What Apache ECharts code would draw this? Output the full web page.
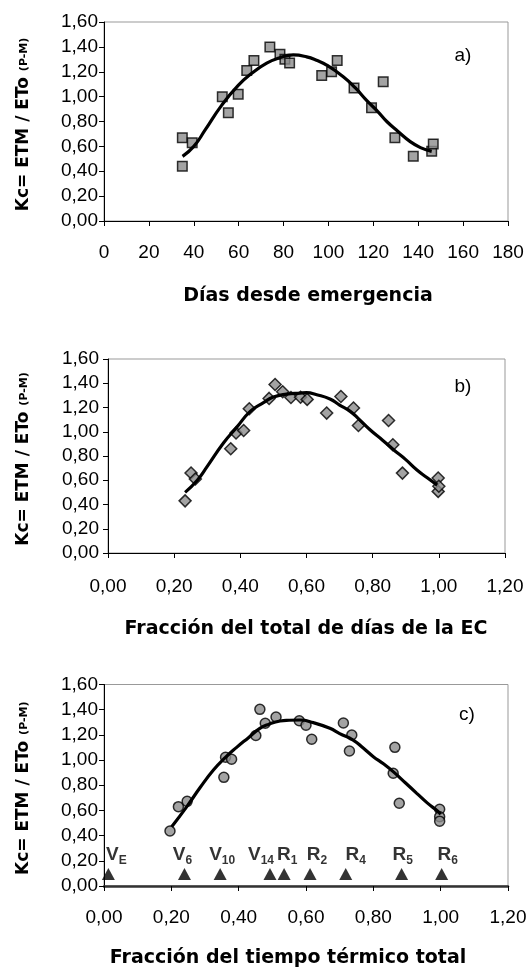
<!DOCTYPE html>
<html><head><meta charset="utf-8">
<script src="https://cdn.jsdelivr.net/npm/echarts@6/dist/echarts.min.js"></script>
<style>html,body{margin:0;padding:0;background:#fff}#c{width:531px;height:969px}</style>
</head><body><div id="c"></div>
<script>
// ---------- data ----------
// Panel a) : Kc vs days since emergence
const aDays = [34.9, 39.3, 34.9, 52.7, 55.4, 59.8, 63.6, 66.8, 73.9, 78.4, 80.6, 82.7, 97.0, 101.4, 103.9, 111.4, 119.2, 124.4, 129.6, 137.8, 146.0, 146.7];
const aKc   = [0.67, 0.63, 0.44, 1.00, 0.87, 1.02, 1.21, 1.29, 1.40, 1.34, 1.30, 1.27, 1.17, 1.20, 1.29, 1.07, 0.91, 1.12, 0.67, 0.52, 0.56, 0.62];
const aFitDays = [35, 40, 45, 52.4, 59.8, 66, 72.5, 78, 84.3, 90.3, 95, 99.2, 106.6, 112, 117, 122, 126, 131, 136.3, 141, 146];
const aFitKc   = [0.52, 0.60, 0.73, 0.93, 1.09, 1.19, 1.27, 1.31, 1.335, 1.32, 1.29, 1.254, 1.16, 1.07, 0.97, 0.88, 0.80, 0.72, 0.64, 0.59, 0.56];

// Panel b) : Kc vs fraction of total days
const bFrac = [0.233, 0.251, 0.264, 0.371, 0.387, 0.410, 0.427, 0.487, 0.505, 0.528, 0.553, 0.582, 0.602, 0.661, 0.704, 0.742, 0.757, 0.848, 0.861, 0.890, 0.998, 0.998, 1.000];
const bKc   = [0.43, 0.66, 0.61, 0.86, 0.99, 1.01, 1.19, 1.275, 1.39, 1.33, 1.283, 1.285, 1.267, 1.154, 1.291, 1.196, 1.052, 1.093, 0.893, 0.659, 0.618, 0.508, 0.55];
const bFitFrac = [0.233, 0.27, 0.30, 0.349, 0.39, 0.43, 0.47, 0.50, 0.54, 0.581, 0.60, 0.631, 0.671, 0.70, 0.732, 0.76, 0.792, 0.83, 0.863, 0.90, 0.933, 0.965, 0.995];
const bFitKc   = [0.50, 0.60, 0.714, 0.907, 1.04, 1.168, 1.24, 1.286, 1.31, 1.319, 1.322, 1.305, 1.27, 1.22, 1.168, 1.10, 1.016, 0.93, 0.852, 0.77, 0.687, 0.62, 0.56];

// Panel c) : Kc vs fraction of total thermal time
const cFrac = [0.196, 0.221, 0.247, 0.356, 0.361, 0.379, 0.451, 0.463, 0.479, 0.511, 0.580, 0.600, 0.617, 0.711, 0.736, 0.729, 0.864, 0.859, 0.877, 0.997, 0.997, 0.997];
const cKc   = [0.437, 0.63, 0.672, 0.863, 1.022, 1.006, 1.195, 1.403, 1.292, 1.342, 1.312, 1.276, 1.165, 1.294, 1.199, 1.072, 1.101, 0.895, 0.657, 0.609, 0.55, 0.515];
const cFitFrac = [0.201, 0.246, 0.285, 0.325, 0.36, 0.394, 0.43, 0.463, 0.49, 0.523, 0.55, 0.582, 0.622, 0.671, 0.70, 0.74, 0.77, 0.80, 0.83, 0.859, 0.895, 0.929, 0.96, 0.993, 1.0];
const cFitKc   = [0.47, 0.63, 0.78, 0.921, 1.02, 1.101, 1.18, 1.252, 1.285, 1.31, 1.316, 1.318, 1.297, 1.252, 1.21, 1.159, 1.095, 1.027, 0.97, 0.908, 0.82, 0.736, 0.66, 0.59, 0.57];

// Phenological stages (panel c)
const stageNames = ['V_E', 'V_6', 'V_10', 'V_14', 'R_1', 'R_2', 'R_4', 'R_5', 'R_6'];
const stageFrac  = [0.013, 0.239, 0.345, 0.493, 0.535, 0.612, 0.718, 0.884, 1.003];
const stageKc    = [0.095, 0.095, 0.095, 0.095, 0.095, 0.095, 0.095, 0.095, 0.095];

// Axis ticks
const daysTicks = [0, 20, 40, 60, 80, 100, 120, 140, 160, 180];
const fracTicks = [0, 0.2, 0.4, 0.6, 0.8, 1.0, 1.2];
const kcTicks   = [0, 0.2, 0.4, 0.6, 0.8, 1.0, 1.2, 1.4, 1.6];

const panelLetters = ['a)', 'b)', 'c)'];
const xTitles = ['Días desde emergencia', 'Fracción del total de días de la EC', 'Fracción del tiempo térmico total'];
const yTitleMain = 'Kc= ETM / ETo ';
const yTitleSub = '(P-M)';

// ---------- chart ----------
const FONT = "'Liberation Sans', Arial, sans-serif";
const TITLEFONT = "'DejaVu Sans', 'Liberation Sans', sans-serif";
const comma = v => v.toFixed(2).replace('.', ',');
const zip = (xs, ys) => xs.map((x, i) => [x, ys[i]]);

const grids = [
  { left: 104, top: 22, width: 404, height: 199 },
  { left: 108, top: 359, width: 397, height: 194 },
  { left: 104, top: 684.5, width: 404, height: 201.5 }
];

function xAxisFor(i, ticks, fmt, labelMargin) {
  return {
    gridIndex: i, type: 'value',
    min: ticks[0], max: ticks[ticks.length - 1], interval: ticks[1] - ticks[0],
    splitLine: { show: false },
    axisLine: { show: true, onZero: false, lineStyle: { color: i === 2 ? '#333' : '#000', width: i === 2 ? 2.5 : 1 } },
    axisTick: { show: true, inside: false, length: 5, lineStyle: { color: '#000' } },
    axisLabel: { formatter: fmt, fontFamily: FONT, fontSize: 19, color: '#000', margin: labelMargin, showMinLabel: true, showMaxLabel: true }
  };
}
function yAxisFor(i, margin) {
  return {
    gridIndex: i, type: 'value',
    min: kcTicks[0], max: kcTicks[kcTicks.length - 1], interval: kcTicks[1] - kcTicks[0],
    splitLine: { show: false },
    axisLine: { show: true, onZero: false, lineStyle: { color: '#000', width: 1 } },
    axisTick: { show: true, inside: false, length: 5, lineStyle: { color: '#000' } },
    axisLabel: { formatter: comma, fontFamily: FONT, fontSize: 19, color: '#000', margin: margin, showMinLabel: true, showMaxLabel: true }
  };
}

const markerStyle = { color: '#8c8c8c', borderColor: '#000', borderWidth: 1.5 };
const fitStyle = { color: '#000', width: 3.2 };

const series = [
  { type: 'scatter', xAxisIndex: 0, yAxisIndex: 0, symbol: 'rect', symbolSize: 9.5, itemStyle: markerStyle, data: zip(aDays, aKc), z: 2 },
  { type: 'line', xAxisIndex: 0, yAxisIndex: 0, smooth: true, showSymbol: false, lineStyle: fitStyle, data: zip(aFitDays, aFitKc), z: 3 },
  { type: 'scatter', xAxisIndex: 1, yAxisIndex: 1, symbol: 'diamond', symbolSize: 12, itemStyle: markerStyle, data: zip(bFrac, bKc), z: 2 },
  { type: 'line', xAxisIndex: 1, yAxisIndex: 1, smooth: true, showSymbol: false, lineStyle: fitStyle, data: zip(bFitFrac, bFitKc), z: 3 },
  { type: 'scatter', xAxisIndex: 2, yAxisIndex: 2, symbol: 'circle', symbolSize: 10, itemStyle: markerStyle, data: zip(cFrac, cKc), z: 2 },
  { type: 'line', xAxisIndex: 2, yAxisIndex: 2, smooth: true, showSymbol: false, lineStyle: fitStyle, data: zip(cFitFrac, cFitKc), z: 3 },
];

// stage triangles with labels (label nudges are layout only)
const stageDx = [8, -2, 2, -9, 3, 7, 10, 1, 6];
series.push({
  type: 'scatter', xAxisIndex: 2, yAxisIndex: 2, symbol: 'triangle', symbolSize: [13, 12],
  itemStyle: { color: '#000' }, z: 4,
  data: stageFrac.map((x, i) => ({
    value: [x, stageKc[i]], name: stageNames[i],
    label: { offset: [stageDx[i], 0] }
  })),
  label: {
    show: true, position: 'top', distance: 4,
    formatter: p => { const [m, s] = p.name.split('_'); return `{m|${m}}{s|${s}}`; },
    rich: {
      m: { fontFamily: FONT, fontSize: 19, fontWeight: 'bold', color: '#000', lineHeight: 20, verticalAlign: 'bottom' },
      s: { fontFamily: FONT, fontSize: 12, fontWeight: 'bold', color: '#000', lineHeight: 20, verticalAlign: 'bottom', padding: [0, 0, -3, 0] }
    }
  }
});

const graphic = [];
const titleY = [296, 629, 958];
const titleX = [308, 306, 288];
const letterPos = [[463, 56], [463, 387], [467, 715]];
grids.forEach((g, i) => {
  graphic.push({
    type: 'text', x: titleX[i], y: titleY[i],
    style: { text: xTitles[i], font: `bold 19px ${TITLEFONT}`, fill: '#000', align: 'center', verticalAlign: 'middle' }
  });
  graphic.push({
    type: 'text', x: letterPos[i][0], y: letterPos[i][1],
    style: { text: panelLetters[i], font: `19px ${FONT}`, fill: '#000', align: 'center', verticalAlign: 'middle' }
  });
  graphic.push({
    type: 'text', x: 24, y: g.top + g.height / 2 + 3, rotation: Math.PI / 2,
    style: {
      text: `{m|${yTitleMain}}{s|${yTitleSub}}`, align: 'center', verticalAlign: 'middle',
      rich: {
        m: { font: `bold 17px ${TITLEFONT}`, fill: '#000', lineHeight: 20, verticalAlign: 'middle' },
        s: { font: `bold 11px ${TITLEFONT}`, fill: '#000', lineHeight: 20, verticalAlign: 'middle' }
      }
    }
  });
});

const chart = echarts.init(document.getElementById('c'), null, { renderer: 'canvas' });
chart.setOption({
  animation: false,
  backgroundColor: '#fff',
  grid: grids.map(g => Object.assign({ show: true, borderColor: '#999', borderWidth: 1, backgroundColor: 'transparent', containLabel: false }, g)),
  xAxis: [
    xAxisFor(0, daysTicks, v => String(Math.round(v)), 22),
    xAxisFor(1, fracTicks, comma, 24),
    xAxisFor(2, fracTicks, comma, 22)
  ],
  yAxis: [yAxisFor(0, 6), yAxisFor(1, 9), yAxisFor(2, 6)],
  series: series,
  graphic: graphic
});
</script>
</body></html>
